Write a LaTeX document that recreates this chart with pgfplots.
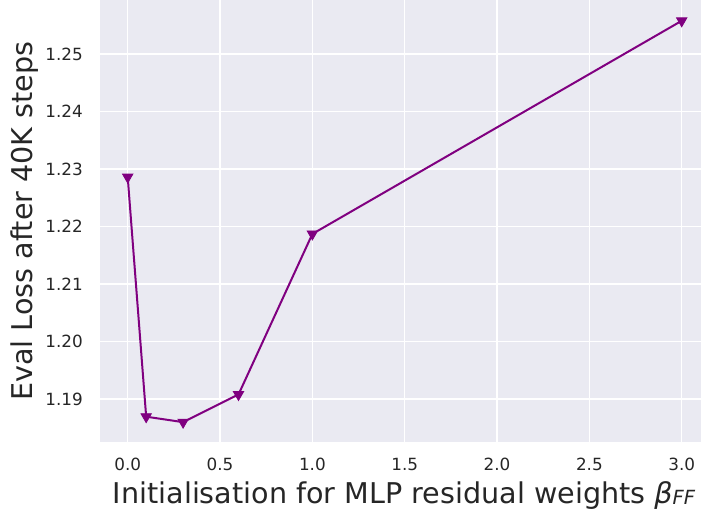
\documentclass[border=0pt]{standalone}
\usepackage{pgfplots}
\pgfplotsset{compat=1.18}
\usepackage{fontspec}
\setmainfont{DejaVu Sans}
\definecolor{sbbg}{HTML}{EAEAF2}
\definecolor{lineclr}{HTML}{800080}
\definecolor{txt}{HTML}{262626}
% italic subscript set a little below the baseline
\newcommand{\sub}[1]{\raisebox{-1.5bp}{\fontsize{19.5bp}{20bp}\selectfont\itshape #1}}
\begin{document}
\begin{tikzpicture}
\begin{axis}[
  name=ax,
  scale only axis,
  width=601bp, height=441.2bp,
  xmin=-0.15, xmax=3.1045,
  ymin=1.18257, ymax=1.25930,
  axis background/.style={fill=sbbg},
  axis line style={draw=none},
  grid=major,
  major grid style={white, line width=1.5bp},
  tick style={draw=none},
  xtick={0,0.5,1,1.5,2,2.5,3},
  ytick={1.19,1.20,1.21,1.22,1.23,1.24,1.25},
  xticklabel style={/pgf/number format/.cd, fixed, fixed zerofill, precision=1},
  yticklabel style={/pgf/number format/.cd, fixed, fixed zerofill, precision=2},
  /pgf/number format/assume math mode=true,
  ticklabel style={font=\fontsize{16.8bp}{20bp}\selectfont, text=txt, inner sep=0pt},
  xtick pos=bottom, ytick pos=left,
  xticklabel shift=16bp,
  yticklabel shift=17bp,
  xlabel={Initialisation for MLP residual weights {\itshape β}\sub{FF}},
  ylabel={Eval Loss after 40K steps},
  label style={font=\fontsize{28.6bp}{34bp}\selectfont, text=txt, inner sep=0pt},
  xlabel style={at={([xshift=3.5bp,yshift=-61.5bp]axis description cs:0.5,0)}, anchor=base},
  ylabel style={at={([xshift=-67bp]axis description cs:0,0.5)}, anchor=base, rotate=0},
]
\addplot[color=lineclr, line width=2bp, mark=triangle*,
  mark size=6bp, mark options={rotate=180, fill=lineclr, draw=lineclr, line width=0.8bp}]
  coordinates {
  (0.0, 1.2286)
  (0.1, 1.18692)
  (0.3, 1.18597)
  (0.6, 1.19078)
  (1.0, 1.2187)
  (3.0, 1.25577)
  };
\end{axis}
\pgfresetboundingbox
\path ([xshift=-100bp,yshift=-68.3bp]ax.south west) rectangle ([yshift=0.5bp]ax.north east);
\end{tikzpicture}
\end{document}
